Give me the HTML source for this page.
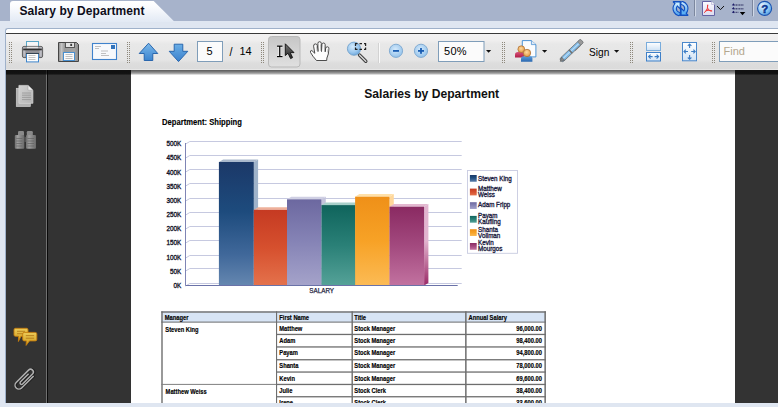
<!DOCTYPE html>
<html><head><meta charset="utf-8">
<style>
*{margin:0;padding:0;box-sizing:border-box}
html,body{width:778px;height:407px;overflow:hidden}
body{position:relative;background:#a7b3cb;font-family:"Liberation Sans",sans-serif}
.a{position:absolute}
#strip{left:0;top:21px;width:778px;height:386px;background:#dfe6f1}
#tab{left:10px;top:1px;width:163px;height:21px}
#tabtxt{left:19.5px;top:4px;font-weight:bold;font-size:12px;color:#0d0d1a;letter-spacing:0.08px}
#panel{left:5px;top:28px;width:773px;height:375px;border:1px solid #9fb1ca;border-right:none;border-bottom:none;border-top-left-radius:3px;background:#fff;overflow:hidden}
#tb{left:0;top:4px;width:772px;height:37px;background:linear-gradient(#f3f2f2 0,#f0efef 6px,#e8e8e8 10px,#e5e5e5 26px,#dddddd 29px,#dbdbdb 35px,#e6e6e6 35px);border-top:1px solid #3a3a3a}
#dark{left:0;top:41px;width:772px;height:334px;background:#333}
#sep{left:40px;top:41px;width:1px;height:334px;background:#707070}
#sep2{left:41px;top:41px;width:1px;height:334px;background:#0a0a0a}
#shadow{left:0;top:41px;width:772px;height:5px;background:linear-gradient(rgba(0,0,0,0.65),rgba(0,0,0,0.5) 40%,rgba(0,0,0,0.28) 80%,rgba(0,0,0,0))}
#shl{left:0;top:41px;width:125px;height:5px;background:linear-gradient(rgba(0,0,0,0.1),rgba(0,0,0,0.4) 50%,rgba(0,0,0,0.45) 80%,rgba(0,0,0,0))}
#shr{left:729px;top:41px;width:43px;height:5px;background:linear-gradient(rgba(0,0,0,0.1),rgba(0,0,0,0.4) 50%,rgba(0,0,0,0.45) 80%,rgba(0,0,0,0))}
#page{left:125px;top:41px;width:604px;height:334px;background:#fff}
.grip{width:4px;height:21px;background-image:radial-gradient(circle at 0.5px 0.5px,#8d8577 0.9px,transparent 1px);background-size:2px 2px}
</style></head><body>
<div class="a" id="strip"></div>
<svg class="a" style="left:0;top:0" width="180" height="22" viewBox="0 0 180 22">
<defs><linearGradient id="tg" x1="0" y1="0" x2="0" y2="1"><stop offset="0" stop-color="#ffffff"/><stop offset="0.25" stop-color="#fbfcfe"/><stop offset="1" stop-color="#e2e9f4"/></linearGradient></defs>
<path d="M10 22 V4 Q10 1 13 1 H153.7 L174 21.3 V22 Z" fill="url(#tg)"/>
</svg>
<div class="a" id="tabtxt">Salary by Department</div>

<div class="a" id="panel">
 <div class="a" id="tb"></div>
 <div class="a" id="dark"></div>
 <div class="a" id="sep"></div>
 <div class="a" id="sep2"></div>
 <div class="a" id="page"></div>
 <div class="a" id="shadow"></div>
 <div class="a" id="shl"></div>
 <div class="a" id="shr"></div>
</div>

<svg class="a" style="left:0;top:0" width="778" height="70" viewBox="0 0 778 70">
<defs>
<linearGradient id="gPrB" x1="0" y1="0" x2="0" y2="1"><stop offset="0" stop-color="#a8a8ae"/><stop offset="0.4" stop-color="#96969c"/><stop offset="1" stop-color="#7c7c80"/></linearGradient>
<linearGradient id="gFl" x1="0" y1="0" x2="1" y2="0"><stop offset="0" stop-color="#8a8a8a"/><stop offset="0.15" stop-color="#c4c4c4"/><stop offset="0.3" stop-color="#9c9c9c"/><stop offset="0.8" stop-color="#a4a4a4"/><stop offset="1" stop-color="#8c8c8c"/></linearGradient>
<linearGradient id="gArr" x1="0" y1="0" x2="0" y2="1"><stop offset="0" stop-color="#7bb8ea"/><stop offset="1" stop-color="#3b84cf"/></linearGradient>
<linearGradient id="gArr2" x1="0" y1="0" x2="0" y2="1"><stop offset="0" stop-color="#6aaee6"/><stop offset="1" stop-color="#3a80cc"/></linearGradient>
<linearGradient id="gBtn" x1="0" y1="0" x2="0" y2="1"><stop offset="0" stop-color="#c6c6c6"/><stop offset="1" stop-color="#e0e0e0"/></linearGradient>
<linearGradient id="gCur" x1="0" y1="0" x2="0" y2="1"><stop offset="0" stop-color="#777"/><stop offset="1" stop-color="#222"/></linearGradient>
<radialGradient id="gMag" cx="0.4" cy="0.35" r="0.7"><stop offset="0" stop-color="#d4eafb"/><stop offset="0.6" stop-color="#9cc8ee"/><stop offset="1" stop-color="#6aa6dc"/></radialGradient>
<radialGradient id="gZm" cx="0.45" cy="0.4" r="0.65"><stop offset="0" stop-color="#d6eafb"/><stop offset="1" stop-color="#8fc0ea"/></radialGradient>
<linearGradient id="gFit" x1="0" y1="0" x2="0" y2="1"><stop offset="0" stop-color="#ffffff"/><stop offset="1" stop-color="#cfe2f5"/></linearGradient>
<linearGradient id="gRed" x1="0" y1="0" x2="0" y2="1"><stop offset="0" stop-color="#d8507a"/><stop offset="1" stop-color="#b02048"/></linearGradient>
<linearGradient id="gBlu" x1="0" y1="0" x2="0" y2="1"><stop offset="0" stop-color="#5a9ad8"/><stop offset="1" stop-color="#2a68b0"/></linearGradient>
<radialGradient id="gSkin" cx="0.45" cy="0.4" r="0.6"><stop offset="0" stop-color="#ffd9a0"/><stop offset="1" stop-color="#e49a40"/></radialGradient>
</defs>
<g fill="#8e887c"><rect x="9" y="42" width="1" height="1"/><rect x="9" y="44" width="1" height="1"/><rect x="9" y="46" width="1" height="1"/><rect x="9" y="48" width="1" height="1"/><rect x="9" y="50" width="1" height="1"/><rect x="9" y="52" width="1" height="1"/><rect x="9" y="54" width="1" height="1"/><rect x="9" y="56" width="1" height="1"/><rect x="9" y="58" width="1" height="1"/><rect x="9" y="60" width="1" height="1"/><rect x="9" y="62" width="1" height="1"/><rect x="11" y="42" width="1" height="1"/><rect x="11" y="44" width="1" height="1"/><rect x="11" y="46" width="1" height="1"/><rect x="11" y="48" width="1" height="1"/><rect x="11" y="50" width="1" height="1"/><rect x="11" y="52" width="1" height="1"/><rect x="11" y="54" width="1" height="1"/><rect x="11" y="56" width="1" height="1"/><rect x="11" y="58" width="1" height="1"/><rect x="11" y="60" width="1" height="1"/><rect x="11" y="62" width="1" height="1"/><rect x="127" y="42" width="1" height="1"/><rect x="127" y="44" width="1" height="1"/><rect x="127" y="46" width="1" height="1"/><rect x="127" y="48" width="1" height="1"/><rect x="127" y="50" width="1" height="1"/><rect x="127" y="52" width="1" height="1"/><rect x="127" y="54" width="1" height="1"/><rect x="127" y="56" width="1" height="1"/><rect x="127" y="58" width="1" height="1"/><rect x="127" y="60" width="1" height="1"/><rect x="127" y="62" width="1" height="1"/><rect x="129" y="42" width="1" height="1"/><rect x="129" y="44" width="1" height="1"/><rect x="129" y="46" width="1" height="1"/><rect x="129" y="48" width="1" height="1"/><rect x="129" y="50" width="1" height="1"/><rect x="129" y="52" width="1" height="1"/><rect x="129" y="54" width="1" height="1"/><rect x="129" y="56" width="1" height="1"/><rect x="129" y="58" width="1" height="1"/><rect x="129" y="60" width="1" height="1"/><rect x="129" y="62" width="1" height="1"/><rect x="261" y="42" width="1" height="1"/><rect x="261" y="44" width="1" height="1"/><rect x="261" y="46" width="1" height="1"/><rect x="261" y="48" width="1" height="1"/><rect x="261" y="50" width="1" height="1"/><rect x="261" y="52" width="1" height="1"/><rect x="261" y="54" width="1" height="1"/><rect x="261" y="56" width="1" height="1"/><rect x="261" y="58" width="1" height="1"/><rect x="261" y="60" width="1" height="1"/><rect x="261" y="62" width="1" height="1"/><rect x="263" y="42" width="1" height="1"/><rect x="263" y="44" width="1" height="1"/><rect x="263" y="46" width="1" height="1"/><rect x="263" y="48" width="1" height="1"/><rect x="263" y="50" width="1" height="1"/><rect x="263" y="52" width="1" height="1"/><rect x="263" y="54" width="1" height="1"/><rect x="263" y="56" width="1" height="1"/><rect x="263" y="58" width="1" height="1"/><rect x="263" y="60" width="1" height="1"/><rect x="263" y="62" width="1" height="1"/><rect x="502" y="42" width="1" height="1"/><rect x="502" y="44" width="1" height="1"/><rect x="502" y="46" width="1" height="1"/><rect x="502" y="48" width="1" height="1"/><rect x="502" y="50" width="1" height="1"/><rect x="502" y="52" width="1" height="1"/><rect x="502" y="54" width="1" height="1"/><rect x="502" y="56" width="1" height="1"/><rect x="502" y="58" width="1" height="1"/><rect x="502" y="60" width="1" height="1"/><rect x="502" y="62" width="1" height="1"/><rect x="504" y="42" width="1" height="1"/><rect x="504" y="44" width="1" height="1"/><rect x="504" y="46" width="1" height="1"/><rect x="504" y="48" width="1" height="1"/><rect x="504" y="50" width="1" height="1"/><rect x="504" y="52" width="1" height="1"/><rect x="504" y="54" width="1" height="1"/><rect x="504" y="56" width="1" height="1"/><rect x="504" y="58" width="1" height="1"/><rect x="504" y="60" width="1" height="1"/><rect x="504" y="62" width="1" height="1"/><rect x="630" y="42" width="1" height="1"/><rect x="630" y="44" width="1" height="1"/><rect x="630" y="46" width="1" height="1"/><rect x="630" y="48" width="1" height="1"/><rect x="630" y="50" width="1" height="1"/><rect x="630" y="52" width="1" height="1"/><rect x="630" y="54" width="1" height="1"/><rect x="630" y="56" width="1" height="1"/><rect x="630" y="58" width="1" height="1"/><rect x="630" y="60" width="1" height="1"/><rect x="630" y="62" width="1" height="1"/><rect x="632" y="42" width="1" height="1"/><rect x="632" y="44" width="1" height="1"/><rect x="632" y="46" width="1" height="1"/><rect x="632" y="48" width="1" height="1"/><rect x="632" y="50" width="1" height="1"/><rect x="632" y="52" width="1" height="1"/><rect x="632" y="54" width="1" height="1"/><rect x="632" y="56" width="1" height="1"/><rect x="632" y="58" width="1" height="1"/><rect x="632" y="60" width="1" height="1"/><rect x="632" y="62" width="1" height="1"/><rect x="712" y="42" width="1" height="1"/><rect x="712" y="44" width="1" height="1"/><rect x="712" y="46" width="1" height="1"/><rect x="712" y="48" width="1" height="1"/><rect x="712" y="50" width="1" height="1"/><rect x="712" y="52" width="1" height="1"/><rect x="712" y="54" width="1" height="1"/><rect x="712" y="56" width="1" height="1"/><rect x="712" y="58" width="1" height="1"/><rect x="712" y="60" width="1" height="1"/><rect x="712" y="62" width="1" height="1"/><rect x="714" y="42" width="1" height="1"/><rect x="714" y="44" width="1" height="1"/><rect x="714" y="46" width="1" height="1"/><rect x="714" y="48" width="1" height="1"/><rect x="714" y="50" width="1" height="1"/><rect x="714" y="52" width="1" height="1"/><rect x="714" y="54" width="1" height="1"/><rect x="714" y="56" width="1" height="1"/><rect x="714" y="58" width="1" height="1"/><rect x="714" y="60" width="1" height="1"/><rect x="714" y="62" width="1" height="1"/></g>
<!-- printer -->
<rect x="26.5" y="41.5" width="12" height="7" fill="#f6f6f6" stroke="#5aa6c6"/>
<rect x="22.4" y="46.4" width="20.2" height="11.2" rx="1.6" fill="url(#gPrB)" stroke="#4a4a4a" stroke-width="0.8"/>
<rect x="23.2" y="47.2" width="2.2" height="9.6" fill="#bdbdc4"/>
<rect x="39.6" y="47.2" width="2.2" height="9.6" fill="#bdbdc4"/>
<rect x="26.9" y="46.8" width="11.2" height="1.8" fill="#e4e4e4"/>
<rect x="23.2" y="48.6" width="18.6" height="1.7" fill="#2e2e2e"/>
<rect x="26.5" y="53.5" width="12" height="8.4" fill="#fdfdfd" stroke="#3f86cc"/>
<rect x="26" y="53" width="13" height="0.8" fill="#333"/>
<path d="M28.5 55.5h7M28.5 57.5h7M28.5 59.5h7" stroke="#b8b8b8" stroke-width="0.8"/>
<!-- floppy -->
<path d="M58.5 42.5H76.5L78.5 44.5V61.5H58.5Z" fill="url(#gFl)" stroke="#464646"/>
<rect x="65.5" y="42.5" width="9" height="5" fill="#e2e2e2" stroke="#4a4a4a" stroke-width="0.9"/>
<rect x="70.3" y="43.8" width="1.8" height="2.2" fill="#3a3a3a"/>
<rect x="63.5" y="52.5" width="11" height="8" fill="#fafafa" stroke="#4a90d0"/>
<path d="M65.5 54.5h7M65.5 56.5h7M65.5 58.5h7" stroke="#b0b0b0" stroke-width="0.8"/>
<!-- envelope -->
<rect x="92.5" y="43.5" width="24" height="16" fill="#f7f9fc" stroke="#3f82cc" stroke-width="1.1"/>
<rect x="111" y="45" width="4" height="4" fill="#3273bb"/>
<path d="M95 46.5h6M95 48.5h4M101 51h7M101 53.5h5M101 55.5h8" stroke="#a8a8a8" stroke-width="0.7"/>
<!-- up arrow -->
<path d="M148.6 43.2 L157.8 53.5 H152.8 V60.5 H144.2 V53.5 H139.2 Z" fill="url(#gArr)" stroke="#1e5ea8" stroke-width="0.9" stroke-linejoin="round"/>
<!-- down arrow -->
<path d="M174.2 44.2 H182.8 V51.3 H187.8 L178.5 61.6 L169.2 51.3 H174.2 Z" fill="url(#gArr2)" stroke="#1e5ea8" stroke-width="0.9" stroke-linejoin="round"/>
<!-- page box -->
<rect x="197.5" y="41.5" width="25" height="20" fill="#fbfbfb" stroke="#7f9db9"/>
<!-- select button -->
<rect x="268.5" y="36.5" width="31.5" height="30.5" rx="3" fill="url(#gBtn)" stroke="#b9b9b9"/>
<!-- ibeam -->
<path d="M277 46.2H282.5M279.75 46.2V56.6M277 56.6H282.5" stroke="#f4f4f4" stroke-width="2.6" fill="none"/>
<path d="M277 46.2H282.5M279.75 46.2V56.6M277 56.6H282.5" stroke="#000" stroke-width="1.25" fill="none"/>
<!-- arrow cursor -->
<path d="M285.3 43.8 V55.6 L288 53.2 L290.6 58.6 L292.6 57.6 L290.2 52.6 L294 52.6 Z" fill="url(#gCur)" stroke="#111" stroke-width="0.9" stroke-linejoin="round"/>
<!-- hand -->
<path d="M316.5 60.5 L313 56.3 L310.5 52.4 Q310 50.4 311.8 50.5 L314.8 53.3 L313.6 46.2 Q313.5 44 315.3 43.9 Q316.9 43.9 317.3 45.6 L318 51.5 L317.9 43.3 Q318 41.7 319.6 41.7 Q321.2 41.7 321.3 43.3 L321.5 51.5 L321.9 44.6 Q322.1 43 323.6 43 Q325.1 43.1 325.2 44.7 L325.2 51.8 L325.7 48.2 Q326.1 46.6 327.5 46.8 Q329.1 47 328.9 48.7 L328.3 54 L326.9 58 L326.7 60.5 Z" fill="#fdfdfd" stroke="#3a3a3a" stroke-width="0.9" stroke-linejoin="round"/>
<path d="M316.6 46.5 L317.1 51M320.6 44.5 L320.8 51M324.4 45.5 L324.5 51.3M328 49 L327.6 52.5" stroke="#b0b0b0" stroke-width="0.8" fill="none"/>
<!-- magnifier -->
<path d="M359.5 55 L365.8 61.3" stroke="#3a3a3a" stroke-width="3.4" stroke-linecap="round"/>
<path d="M359.5 55 L365.8 61.3" stroke="#d8d8d8" stroke-width="1.4" stroke-linecap="round"/>
<circle cx="354" cy="48.7" r="6.6" fill="url(#gMag)" stroke="#6a9cc8" stroke-width="0.8"/>
<path d="M355.5 46V43.7H357.5M359.5 43.7H362M364 43.7H365.6V46M365.6 47.5V49.4H364M362 49.4H359.5M357.5 49.4H355.5V47.5" stroke="#222" stroke-width="1.2" fill="none"/>
<!-- separator -->
<rect x="379" y="43" width="1" height="20" fill="#fafafa"/>
<rect x="378" y="43" width="1" height="20" fill="#d2d2d2"/>
<!-- zoom out/in -->
<circle cx="396" cy="50.8" r="6.6" fill="url(#gZm)" stroke="#7aa6cf" stroke-width="0.9"/>
<rect x="393" y="50" width="6" height="1.8" fill="#1a5db2"/>
<circle cx="421" cy="50.8" r="6.6" fill="url(#gZm)" stroke="#7aa6cf" stroke-width="0.9"/>
<rect x="418" y="50" width="6" height="1.8" fill="#1a5db2"/>
<rect x="420.1" y="48" width="1.8" height="5.8" fill="#1a5db2"/>
<!-- zoom box -->
<rect x="438.5" y="41.5" width="45.5" height="20" fill="#fbfbfb" stroke="#7f9db9"/>
<path d="M486 50H491.2L488.6 52.8Z" fill="#111"/>
<!-- collaboration -->
<path d="M522.3 40.6H531.4L535.9 44.6V56.9H522.3Z" fill="#fbfcfe" stroke="#3c88d0" stroke-width="0.9"/>
<path d="M531.4 40.6V44.6H535.9" fill="#dfe9f4" stroke="#3c88d0" stroke-width="0.7"/>
<path d="M515 57.5V54.5Q515 52 518 52H521.5Q524 52 524 54.5V57.5Z" fill="url(#gRed)"/>
<circle cx="521.3" cy="49.2" r="3.4" fill="url(#gSkin)" stroke="#a86a30" stroke-width="0.7"/>
<path d="M521 61.8V58.5Q521 56.3 523.5 56.3H530Q532.4 56.3 532.4 58.5V61.8Z" fill="url(#gBlu)"/>
<circle cx="527" cy="53" r="3.7" fill="url(#gSkin)" stroke="#a86a30" stroke-width="0.7"/>
<path d="M542 50H547.2L544.6 52.8Z" fill="#111"/>
<!-- pen -->
<g transform="translate(560.2 61.4) rotate(-43.5)">
<rect x="1" y="-2.3" width="29" height="4.6" rx="2" fill="#7fb9e6" stroke="#666" stroke-width="0.7"/>
<rect x="1" y="-0.8" width="29" height="1.3" fill="#b8dcf6"/>
<path d="M0 0 L4 -2.2 L4 2.2Z" fill="#8a8a8a" stroke="#555" stroke-width="0.5"/>
<rect x="13.5" y="-2.4" width="1.6" height="4.8" fill="#6f6f6f"/>
<rect x="26" y="-2.4" width="4" height="4.8" rx="1.5" fill="#9a9a9a" stroke="#666" stroke-width="0.5"/>
<path d="M18 2.4 H26" stroke="#777" stroke-width="1"/>
</g>
<path d="M614 50H619.2L616.6 52.8Z" fill="#111"/>
<!-- fit width -->
<rect x="646.5" y="42.5" width="14" height="8" fill="url(#gFit)" stroke="#79acdc"/>
<rect x="646.5" y="52.5" width="14" height="8.5" fill="url(#gFit)" stroke="#3f80c8"/>
<path d="M648.6 56.6H652.6M650.6 54.6L648.6 56.6L650.6 58.6M654.6 56.6H658.6M656.6 54.6L658.6 56.6L656.6 58.6" stroke="#3b7cc4" stroke-width="1.1" fill="none"/>
<!-- fit page -->
<rect x="682.5" y="42.5" width="14" height="18.3" fill="url(#gFit)" stroke="#4a88cc"/>
<path d="M689.6 44V48M687.8 45.8L689.6 44L691.4 45.8M689.6 55V59.3M687.8 57.5L689.6 59.3L691.4 57.5M684 51.5H688M685.8 49.7L684 51.5L685.8 53.3M691.2 51.5H695.2M693.4 49.7L695.2 51.5L693.4 53.3" stroke="#3b7cc4" stroke-width="1.1" fill="none"/>
<!-- find box -->
<rect x="719.5" y="41.5" width="60" height="20" fill="#fbfbfb" stroke="#7f9db9"/>
</svg>
<div class="a" style="left:206.5px;top:45px;font-size:11px;color:#000">5</div>
<div class="a" style="left:229.5px;top:46px;font-size:11px;color:#000;transform:scaleY(1.2);transform-origin:0 9px">/</div>
<div class="a" style="left:239.4px;top:45px;font-size:11px;color:#000">14</div>
<div class="a" style="left:444px;top:45px;font-size:11px;color:#000;letter-spacing:0.3px">50%</div>
<div class="a" style="left:588.5px;top:45.6px;font-size:11px;color:#000;transform:scaleX(0.92);transform-origin:0 0">Sign</div>
<div class="a" style="left:723.5px;top:45px;font-size:11px;color:#b3a78e">Find</div>

<svg class="a" style="left:660px;top:0" width="118" height="20" viewBox="660 0 118 20">
<defs>
<linearGradient id="gSync" x1="0" y1="0" x2="0" y2="1"><stop offset="0" stop-color="#bfe4ff"/><stop offset="1" stop-color="#58a8ee"/></linearGradient>
<radialGradient id="gHelp" cx="0.35" cy="0.3" r="0.8"><stop offset="0" stop-color="#e6f4ff"/><stop offset="0.6" stop-color="#8cc6f2"/><stop offset="1" stop-color="#4a94dc"/></radialGradient>
</defs>
<!-- sync -->
<g fill="none" stroke-linecap="round" stroke-linejoin="round">
<path d="M676.3 4.5 Q673.6 8 675.4 11.3 Q676.6 13.3 678.6 13.9" stroke="#1250c0" stroke-width="4.4"/>
<path d="M684.7 12.6 Q687.4 9.1 685.6 5.8 Q684.4 3.8 682.4 3.2" stroke="#1250c0" stroke-width="4.4"/>
<path d="M673.6 1.8 H680.4 V8.6 Z" fill="#1250c0" stroke="#1250c0" stroke-width="1.8"/>
<path d="M687.6 15.2 H680.8 V8.4 Z" fill="#1250c0" stroke="#1250c0" stroke-width="1.8"/>
<path d="M676.3 4.5 Q673.6 8 675.4 11.3 Q676.6 13.3 678.6 13.9" stroke="url(#gSync)" stroke-width="2.2"/>
<path d="M684.7 12.6 Q687.4 9.1 685.6 5.8 Q684.4 3.8 682.4 3.2" stroke="url(#gSync)" stroke-width="2.2"/>
<path d="M674.6 2.6 H679.6 V7.4 Z" fill="#c6ecff"/>
<path d="M686.6 14.4 H681.6 V9.6 Z" fill="#5cb0f4"/>
</g>
<!-- separators -->
<rect x="694" y="0" width="1" height="16" fill="#7c879e"/><rect x="695" y="0" width="1" height="16.5" fill="#d0d8e6"/>
<rect x="752" y="0" width="1" height="16" fill="#7c879e"/><rect x="753" y="0" width="1" height="16.5" fill="#d0d8e6"/>
<!-- pdf -->
<defs><linearGradient id="gPdf" x1="0" y1="0" x2="0" y2="1"><stop offset="0" stop-color="#fbfbff"/><stop offset="1" stop-color="#dcdcf0"/></linearGradient></defs>
<path d="M702.5 1.5 H711.6 L714.5 4.4 V15.5 H702.5 Z" fill="url(#gPdf)" stroke="#6464a4" stroke-width="1"/>
<path d="M711.6 1.2 V4.4 H714.8 Z" fill="#fff"/>
<path d="M711.6 1.5 V4.4 H714.5" fill="none" stroke="#9a9ac4" stroke-width="0.6"/>
<path d="M707.7 4.8 Q706.9 7.6 708.4 9.8 Q710 11.5 712.2 11 M708.3 9.6 Q705.9 10.6 704 12.8 M707.7 4.8 Q708.1 8.4 705.6 11.6 M705.9 10.5 Q709.4 9.7 711.9 10.9" stroke="#f03c3c" stroke-width="1" fill="none"/>
<!-- chevron -->
<path d="M717 6 L720.5 9.6 L724 6" stroke="#111" stroke-width="1" fill="none"/>
<!-- list -->
<g fill="#1c1c6a">
<path d="M731.8 5.2 L733.6 3.3 L734.2 4.2 L734.2 5.8 Z"/><path d="M731.8 8.9 L733.6 7 L734.2 7.9 L734.2 9.5 Z"/><path d="M731.8 12.6 L733.6 10.7 L734.2 11.6 L734.2 13.2 Z"/>
</g>
<path d="M734.3 5H743.8M734.3 8.7H743.8M734.3 12.4H738.4" stroke="#3a3c6c" stroke-width="1.4" stroke-dasharray="1.1 0.5" opacity="0.85"/>
<path d="M739.8 12 H745.3 L742.5 15.3Z" fill="#000"/>
<!-- help -->
<circle cx="764.6" cy="8.4" r="7" fill="url(#gHelp)" stroke="#1a52b0" stroke-width="1.1"/>
<text x="764.7" y="12.7" text-anchor="middle" font-family="Liberation Sans" font-weight="bold" font-size="11.5" fill="#0a3590" stroke="#0a3590" stroke-width="0.5">?</text>
</svg>

<svg class="a" style="left:6px;top:70px" width="40" height="333" viewBox="6 70 40 333">
<defs>
<linearGradient id="gPg" x1="0" y1="0" x2="1" y2="1"><stop offset="0" stop-color="#d2d2d2"/><stop offset="1" stop-color="#b4b4b4"/></linearGradient>
<linearGradient id="gBin" x1="0" y1="0" x2="1" y2="0"><stop offset="0" stop-color="#6e6e6e"/><stop offset="0.3" stop-color="#a0a0a0"/><stop offset="0.6" stop-color="#888"/><stop offset="1" stop-color="#6a6a6a"/></linearGradient>
<linearGradient id="gCm" x1="0" y1="0" x2="0" y2="1"><stop offset="0" stop-color="#eccb58"/><stop offset="1" stop-color="#cf9a1c"/></linearGradient>
</defs>
<!-- pages -->
<rect x="16.3" y="88.3" width="14" height="18.2" fill="#b2b2b2" stroke="#d0d0d0" stroke-width="0.7"/>
<path d="M18.9 85.4 H28 L32.9 90.2 V103.3 H18.9 Z" fill="url(#gPg)" stroke="#dadada" stroke-width="0.7"/>
<path d="M28 85.4 V90.2 H32.9" fill="#f0f0f0" stroke="#9a9a9a" stroke-width="0.5"/>
<path d="M22 93H31M22 95.2H31M22 97.4H31M22 99.6H31" stroke="#949494" stroke-width="0.8"/>
<!-- binoculars -->
<rect x="18" y="131" width="6" height="5" rx="1.2" fill="#8a8a8a"/>
<rect x="26.8" y="131" width="6" height="5" rx="1.2" fill="#8a8a8a"/>
<rect x="14.8" y="135" width="9.5" height="13.7" rx="1" fill="url(#gBin)"/>
<rect x="26" y="135" width="10" height="13.7" rx="1" fill="url(#gBin)"/>
<rect x="24.2" y="137" width="1.9" height="5" fill="#555"/>
<path d="M16.3 138.5h6M16.3 141h6M16.3 143.5h6M16.3 146h6M27.5 138.5h6.5M27.5 141h6.5M27.5 143.5h6.5M27.5 146h6.5" stroke="#5a5a5a" stroke-width="0.6"/>
<!-- comments -->
<path d="M15.5 328.3 H26.5 Q28 328.3 28 329.8 V334.8 Q28 336.3 26.5 336.3 H21 L18.4 341.5 L18.6 336.3 H15.5 Q14 336.3 14 334.8 V329.8 Q14 328.3 15.5 328.3Z" fill="url(#gCm)" stroke="#c47c0c" stroke-width="0.9"/>
<path d="M17 331.3h8M17 333.7h6" stroke="#a86a10" stroke-width="0.7"/>
<path d="M24.2 332.4 H35.3 Q36.8 332.4 36.8 333.9 V339.4 Q36.8 340.9 35.3 340.9 H29.5 L26.1 345.4 L26.4 340.9 H24.2 Q22.7 340.9 22.7 339.4 V333.9 Q22.7 332.4 24.2 332.4Z" fill="url(#gCm)" stroke="#c47c0c" stroke-width="0.9"/>
<path d="M25.8 335.6h8.3M25.8 338.2h8.3" stroke="#a86a10" stroke-width="0.7"/>
<!-- paperclip -->
<g transform="translate(24.6 380.3) rotate(-45)">
<path d="M9.5 3.3 H-7.5 A3.85 3.85 0 0 1 -7.5 -4.4 H10 A2.8 2.8 0 0 1 10 1.2 H-4 A1.5 1.5 0 0 1 -4 -1.8 H7.5" fill="none" stroke="#1e1e1e" stroke-width="2.4" transform="translate(0.5 0.6)"/>
<path d="M9.5 3.3 H-7.5 A3.85 3.85 0 0 1 -7.5 -4.4 H10 A2.8 2.8 0 0 1 10 1.2 H-4 A1.5 1.5 0 0 1 -4 -1.8 H7.5" fill="none" stroke="#b2b2b2" stroke-width="1.45"/>
</g>
</svg>

<svg class="a" style="left:131px;top:70px" width="604" height="333" viewBox="131 70 604 333">
<defs>
<linearGradient id="bg0" x1="0" y1="0" x2="0" y2="1"><stop offset="0" stop-color="#1b3868"/><stop offset="0.4" stop-color="#1d4b7d"/><stop offset="0.75" stop-color="#40689a"/><stop offset="1" stop-color="#6587b0"/></linearGradient>
<linearGradient id="sg0" x1="0" y1="0" x2="0" y2="1"><stop offset="0" stop-color="#9fb3ca"/><stop offset="0.45" stop-color="#9fb3ca"/><stop offset="1" stop-color="#3a5a88"/></linearGradient>
<linearGradient id="bg1" x1="0" y1="0" x2="0" y2="1"><stop offset="0" stop-color="#c53a22"/><stop offset="0.5" stop-color="#d6502e"/><stop offset="1" stop-color="#e4724c"/></linearGradient>
<linearGradient id="sg1" x1="0" y1="0" x2="0" y2="1"><stop offset="0" stop-color="#e9a08a"/><stop offset="0.45" stop-color="#e9a08a"/><stop offset="1" stop-color="#b03a20"/></linearGradient>
<linearGradient id="bg2" x1="0" y1="0" x2="0" y2="1"><stop offset="0" stop-color="#6c68a0"/><stop offset="0.5" stop-color="#8684b6"/><stop offset="1" stop-color="#a5a3ca"/></linearGradient>
<linearGradient id="sg2" x1="0" y1="0" x2="0" y2="1"><stop offset="0" stop-color="#c4c4dc"/><stop offset="0.45" stop-color="#c4c4dc"/><stop offset="1" stop-color="#6a6898"/></linearGradient>
<linearGradient id="bg3" x1="0" y1="0" x2="0" y2="1"><stop offset="0" stop-color="#0f645c"/><stop offset="0.5" stop-color="#2a8077"/><stop offset="1" stop-color="#55a298"/></linearGradient>
<linearGradient id="sg3" x1="0" y1="0" x2="0" y2="1"><stop offset="0" stop-color="#9cc8c2"/><stop offset="0.45" stop-color="#9cc8c2"/><stop offset="1" stop-color="#1a6a62"/></linearGradient>
<linearGradient id="bg4" x1="0" y1="0" x2="0" y2="1"><stop offset="0" stop-color="#ef9018"/><stop offset="0.5" stop-color="#f7a226"/><stop offset="1" stop-color="#fcbb55"/></linearGradient>
<linearGradient id="sg4" x1="0" y1="0" x2="0" y2="1"><stop offset="0" stop-color="#ffd79a"/><stop offset="0.45" stop-color="#ffd79a"/><stop offset="1" stop-color="#e08a20"/></linearGradient>
<linearGradient id="bg5" x1="0" y1="0" x2="0" y2="1"><stop offset="0" stop-color="#8a2a62"/><stop offset="0.5" stop-color="#a34a7f"/><stop offset="1" stop-color="#c272a0"/></linearGradient>
<linearGradient id="sg5" x1="0" y1="0" x2="0" y2="1"><stop offset="0" stop-color="#e2b4cf"/><stop offset="0.45" stop-color="#e2b4cf"/><stop offset="1" stop-color="#9a2866"/></linearGradient>
</defs>
<text x="364.2" y="98.3" font-family="Liberation Sans" font-weight="bold" font-size="12.15" fill="#111">Salaries by Department</text>
<text x="162.1" y="125.0" font-family="Liberation Sans" font-weight="bold" font-size="8.4" fill="#000" stroke="#000" stroke-width="0.12" textLength="79.75" lengthAdjust="spacingAndGlyphs">Department: Shipping</text>
<path d="M185.5 144.10 L189.80 141.50 H461.7" stroke="#c6c9e0" stroke-width="1" fill="none"/>
<text x="181.3" y="146.26" text-anchor="end" font-family="Liberation Sans" font-size="7" fill="#15152a" stroke="#15152a" stroke-width="0.35" textLength="14.88" lengthAdjust="spacingAndGlyphs">500K</text>
<path d="M185.5 158.10 L189.80 155.50 H461.7" stroke="#c6c9e0" stroke-width="1" fill="none"/>
<text x="181.3" y="160.43" text-anchor="end" font-family="Liberation Sans" font-size="7" fill="#15152a" stroke="#15152a" stroke-width="0.35" textLength="14.88" lengthAdjust="spacingAndGlyphs">450K</text>
<path d="M185.5 172.10 L189.80 169.50 H461.7" stroke="#c6c9e0" stroke-width="1" fill="none"/>
<text x="181.3" y="174.59" text-anchor="end" font-family="Liberation Sans" font-size="7" fill="#15152a" stroke="#15152a" stroke-width="0.35" textLength="14.88" lengthAdjust="spacingAndGlyphs">400K</text>
<path d="M185.5 186.10 L189.80 183.50 H461.7" stroke="#c6c9e0" stroke-width="1" fill="none"/>
<text x="181.3" y="188.76" text-anchor="end" font-family="Liberation Sans" font-size="7" fill="#15152a" stroke="#15152a" stroke-width="0.35" textLength="14.88" lengthAdjust="spacingAndGlyphs">350K</text>
<path d="M185.5 201.10 L189.80 198.50 H461.7" stroke="#c6c9e0" stroke-width="1" fill="none"/>
<text x="181.3" y="202.92" text-anchor="end" font-family="Liberation Sans" font-size="7" fill="#15152a" stroke="#15152a" stroke-width="0.35" textLength="14.88" lengthAdjust="spacingAndGlyphs">300K</text>
<path d="M185.5 215.10 L189.80 212.50 H461.7" stroke="#c6c9e0" stroke-width="1" fill="none"/>
<text x="181.3" y="217.09" text-anchor="end" font-family="Liberation Sans" font-size="7" fill="#15152a" stroke="#15152a" stroke-width="0.35" textLength="14.88" lengthAdjust="spacingAndGlyphs">250K</text>
<path d="M185.5 229.10 L189.80 226.50 H461.7" stroke="#c6c9e0" stroke-width="1" fill="none"/>
<text x="181.3" y="231.26" text-anchor="end" font-family="Liberation Sans" font-size="7" fill="#15152a" stroke="#15152a" stroke-width="0.35" textLength="14.88" lengthAdjust="spacingAndGlyphs">200K</text>
<path d="M185.5 243.10 L189.80 240.50 H461.7" stroke="#c6c9e0" stroke-width="1" fill="none"/>
<text x="181.3" y="245.42" text-anchor="end" font-family="Liberation Sans" font-size="7" fill="#15152a" stroke="#15152a" stroke-width="0.35" textLength="14.88" lengthAdjust="spacingAndGlyphs">150K</text>
<path d="M185.5 258.10 L189.80 255.50 H461.7" stroke="#c6c9e0" stroke-width="1" fill="none"/>
<text x="181.3" y="259.59" text-anchor="end" font-family="Liberation Sans" font-size="7" fill="#15152a" stroke="#15152a" stroke-width="0.35" textLength="14.88" lengthAdjust="spacingAndGlyphs">100K</text>
<path d="M185.5 271.10 L189.80 268.50 H461.7" stroke="#c6c9e0" stroke-width="1" fill="none"/>
<text x="181.3" y="273.75" text-anchor="end" font-family="Liberation Sans" font-size="7" fill="#15152a" stroke="#15152a" stroke-width="0.35" textLength="11.33" lengthAdjust="spacingAndGlyphs">50K</text>
<path d="M185.5 286.10 L189.80 283.50 H461.7" stroke="#c6c9e0" stroke-width="1" fill="none"/>
<text x="181.3" y="287.92" text-anchor="end" font-family="Liberation Sans" font-size="7" fill="#15152a" stroke="#15152a" stroke-width="0.35" textLength="7.79" lengthAdjust="spacingAndGlyphs">0K</text>
<path d="M185.5 143 V285.6" stroke="#7077ad" stroke-width="0.9"/>
<path d="M253.8 162.0 L258.10 159.40 V282.90 L253.8 285.5 Z" fill="url(#sg0)"/>
<path d="M218.9 162.0 L223.20 159.40 H258.10 L253.8 162.0 Z" fill="#a9b8cc"/>
<rect x="218.9" y="162.0" width="34.90" height="123.50" fill="url(#bg0)"/>
<path d="M287.0 209.8 L291.30 207.20 V282.90 L287.0 285.5 Z" fill="url(#sg1)"/>
<path d="M253.8 209.8 L258.10 207.20 H291.30 L287.0 209.8 Z" fill="#eeb09a"/>
<rect x="253.8" y="209.8" width="33.20" height="75.70" fill="url(#bg1)"/>
<path d="M321.5 199.3 L325.80 196.70 V282.90 L321.5 285.5 Z" fill="url(#sg2)"/>
<path d="M287.0 199.3 L291.30 196.70 H325.80 L321.5 199.3 Z" fill="#cfcfe3"/>
<rect x="287.0" y="199.3" width="34.50" height="86.20" fill="url(#bg2)"/>
<path d="M355.1 205.1 L359.40 202.50 V282.90 L355.1 285.5 Z" fill="url(#sg3)"/>
<path d="M321.5 205.1 L325.80 202.50 H359.40 L355.1 205.1 Z" fill="#a8d0ca"/>
<rect x="321.5" y="205.1" width="33.60" height="80.40" fill="url(#bg3)"/>
<path d="M389.5 196.7 L393.80 194.10 V282.90 L389.5 285.5 Z" fill="url(#sg4)"/>
<path d="M355.1 196.7 L359.40 194.10 H393.80 L389.5 196.7 Z" fill="#ffe0a8"/>
<rect x="355.1" y="196.7" width="34.40" height="88.80" fill="url(#bg4)"/>
<path d="M424.1 206.7 L428.40 204.10 V282.90 L424.1 285.5 Z" fill="url(#sg5)"/>
<path d="M389.5 206.7 L393.80 204.10 H428.40 L424.1 206.7 Z" fill="#e3b8d0"/>
<rect x="389.5" y="206.7" width="34.60" height="78.80" fill="url(#bg5)"/>
<path d="M185.5 285.5 H457.7" stroke="#6a72a8" stroke-width="1"/>
<text x="321.7" y="292.8" text-anchor="middle" font-family="Liberation Sans" font-size="6.5" fill="#25253f" stroke="#25253f" stroke-width="0.25" textLength="24.77" lengthAdjust="spacingAndGlyphs">SALARY</text>
<rect x="467.5" y="170.5" width="50" height="82.8" fill="#fff" stroke="#c8cbe0" stroke-width="0.9"/>
<rect x="469.9" y="175.0" width="6.8" height="6.8" fill="url(#bg0)"/>
<text x="478.1" y="181.0" font-family="Liberation Sans" font-size="6.5" fill="#202040" stroke="#202040" stroke-width="0.32" textLength="33.65" lengthAdjust="spacingAndGlyphs">Steven King</text>
<rect x="469.9" y="188.6" width="6.8" height="6.8" fill="url(#bg1)"/>
<text x="478.1" y="190.9" font-family="Liberation Sans" font-size="6.5" fill="#202040" stroke="#202040" stroke-width="0.32" textLength="23.58" lengthAdjust="spacingAndGlyphs">Matthew</text>
<text x="478.1" y="197.0" font-family="Liberation Sans" font-size="6.5" fill="#202040" stroke="#202040" stroke-width="0.32" textLength="16.87" lengthAdjust="spacingAndGlyphs">Weiss</text>
<rect x="469.9" y="202.2" width="6.8" height="6.8" fill="url(#bg2)"/>
<text x="478.1" y="206.7" font-family="Liberation Sans" font-size="6.5" fill="#202040" stroke="#202040" stroke-width="0.32" textLength="32.25" lengthAdjust="spacingAndGlyphs">Adam Fripp</text>
<rect x="469.9" y="215.9" width="6.8" height="6.8" fill="url(#bg3)"/>
<text x="478.1" y="217.9" font-family="Liberation Sans" font-size="6.5" fill="#202040" stroke="#202040" stroke-width="0.32" textLength="19.42" lengthAdjust="spacingAndGlyphs">Payam</text>
<text x="478.1" y="223.6" font-family="Liberation Sans" font-size="6.5" fill="#202040" stroke="#202040" stroke-width="0.32" textLength="22.55" lengthAdjust="spacingAndGlyphs">Kaufling</text>
<rect x="469.9" y="229.2" width="6.8" height="6.8" fill="url(#bg4)"/>
<text x="478.1" y="231.7" font-family="Liberation Sans" font-size="6.5" fill="#202040" stroke="#202040" stroke-width="0.32" textLength="19.78" lengthAdjust="spacingAndGlyphs">Shanta</text>
<text x="478.1" y="237.7" font-family="Liberation Sans" font-size="6.5" fill="#202040" stroke="#202040" stroke-width="0.32" textLength="22.20" lengthAdjust="spacingAndGlyphs">Vollman</text>
<rect x="469.9" y="243.0" width="6.8" height="6.8" fill="url(#bg5)"/>
<text x="478.1" y="245.0" font-family="Liberation Sans" font-size="6.5" fill="#202040" stroke="#202040" stroke-width="0.32" textLength="15.61" lengthAdjust="spacingAndGlyphs">Kevin</text>
<text x="478.1" y="250.5" font-family="Liberation Sans" font-size="6.5" fill="#202040" stroke="#202040" stroke-width="0.32" textLength="24.28" lengthAdjust="spacingAndGlyphs">Mourgos</text>
</svg>
<svg class="a" style="left:131px;top:300px" width="604" height="103" viewBox="131 300 604 103">
<rect x="161.3" y="311.3" width="384.59999999999997" height="11" fill="#d7e4f5"/>
<rect x="161.3" y="311.3" width="384.59999999999997" height="1.4" fill="#6e6e6e"/>
<rect x="161.3" y="311.3" width="1.4" height="100" fill="#6e6e6e"/>
<rect x="544.4" y="311.3" width="1.5" height="100" fill="#6e6e6e"/>
<rect x="276.0" y="311.3" width="1.1" height="100" fill="#6e6e6e"/>
<rect x="351.5" y="311.3" width="1.4" height="100" fill="#6e6e6e"/>
<rect x="465.1" y="311.3" width="1.5" height="100" fill="#6e6e6e"/>
<rect x="161.3" y="321.6" width="384.59999999999997" height="1.0" fill="#6e6e6e"/>
<rect x="276" y="333.79999999999995" width="269.9" height="1.3" fill="#6e6e6e"/>
<rect x="276" y="346.29999999999995" width="269.9" height="1.3" fill="#6e6e6e"/>
<rect x="276" y="359.09999999999997" width="269.9" height="1.3" fill="#6e6e6e"/>
<rect x="276" y="371.4" width="269.9" height="1.3" fill="#6e6e6e"/>
<rect x="276" y="383.79999999999995" width="269.9" height="1.3" fill="#6e6e6e"/>
<rect x="276" y="396.09999999999997" width="269.9" height="1.3" fill="#6e6e6e"/>
<rect x="161.3" y="383.9" width="114.69999999999999" height="1" fill="#808080"/>
<text x="164.8" y="319.8" font-family="Liberation Sans" font-weight="bold" font-size="6.4" fill="#000" stroke="#000" stroke-width="0.15" textLength="23.69" lengthAdjust="spacingAndGlyphs">Manager</text>
<text x="279.3" y="319.8" font-family="Liberation Sans" font-weight="bold" font-size="6.4" fill="#000" stroke="#000" stroke-width="0.15" textLength="29.77" lengthAdjust="spacingAndGlyphs">First Name</text>
<text x="354.3" y="319.8" font-family="Liberation Sans" font-weight="bold" font-size="6.4" fill="#000" stroke="#000" stroke-width="0.15" textLength="11.74" lengthAdjust="spacingAndGlyphs">Title</text>
<text x="468.5" y="319.8" font-family="Liberation Sans" font-weight="bold" font-size="6.4" fill="#000" stroke="#000" stroke-width="0.15" textLength="38.41" lengthAdjust="spacingAndGlyphs">Annual Salary</text>
<text x="279.3" y="330.8" font-family="Liberation Sans" font-weight="bold" font-size="6.4" fill="#000" stroke="#000" stroke-width="0.15" textLength="23.04" lengthAdjust="spacingAndGlyphs">Matthew</text>
<text x="354.3" y="330.8" font-family="Liberation Sans" font-weight="bold" font-size="6.4" fill="#000" stroke="#000" stroke-width="0.15" textLength="40.97" lengthAdjust="spacingAndGlyphs">Stock Manager</text>
<text x="541.9" y="330.8" text-anchor="end" font-family="Liberation Sans" font-weight="bold" font-size="6.4" fill="#000" stroke="#000" stroke-width="0.15" textLength="25.63" lengthAdjust="spacingAndGlyphs">96,000.00</text>
<text x="279.3" y="342.9" font-family="Liberation Sans" font-weight="bold" font-size="6.4" fill="#000" stroke="#000" stroke-width="0.15" textLength="16.00" lengthAdjust="spacingAndGlyphs">Adam</text>
<text x="354.3" y="342.9" font-family="Liberation Sans" font-weight="bold" font-size="6.4" fill="#000" stroke="#000" stroke-width="0.15" textLength="40.97" lengthAdjust="spacingAndGlyphs">Stock Manager</text>
<text x="541.9" y="342.9" text-anchor="end" font-family="Liberation Sans" font-weight="bold" font-size="6.4" fill="#000" stroke="#000" stroke-width="0.15" textLength="25.63" lengthAdjust="spacingAndGlyphs">98,400.00</text>
<text x="279.3" y="355.4" font-family="Liberation Sans" font-weight="bold" font-size="6.4" fill="#000" stroke="#000" stroke-width="0.15" textLength="18.57" lengthAdjust="spacingAndGlyphs">Payam</text>
<text x="354.3" y="355.4" font-family="Liberation Sans" font-weight="bold" font-size="6.4" fill="#000" stroke="#000" stroke-width="0.15" textLength="40.97" lengthAdjust="spacingAndGlyphs">Stock Manager</text>
<text x="541.9" y="355.4" text-anchor="end" font-family="Liberation Sans" font-weight="bold" font-size="6.4" fill="#000" stroke="#000" stroke-width="0.15" textLength="25.63" lengthAdjust="spacingAndGlyphs">94,800.00</text>
<text x="279.3" y="368.2" font-family="Liberation Sans" font-weight="bold" font-size="6.4" fill="#000" stroke="#000" stroke-width="0.15" textLength="19.20" lengthAdjust="spacingAndGlyphs">Shanta</text>
<text x="354.3" y="368.2" font-family="Liberation Sans" font-weight="bold" font-size="6.4" fill="#000" stroke="#000" stroke-width="0.15" textLength="40.97" lengthAdjust="spacingAndGlyphs">Stock Manager</text>
<text x="541.9" y="368.2" text-anchor="end" font-family="Liberation Sans" font-weight="bold" font-size="6.4" fill="#000" stroke="#000" stroke-width="0.15" textLength="25.63" lengthAdjust="spacingAndGlyphs">78,000.00</text>
<text x="279.3" y="380.5" font-family="Liberation Sans" font-weight="bold" font-size="6.4" fill="#000" stroke="#000" stroke-width="0.15" textLength="15.69" lengthAdjust="spacingAndGlyphs">Kevin</text>
<text x="354.3" y="380.5" font-family="Liberation Sans" font-weight="bold" font-size="6.4" fill="#000" stroke="#000" stroke-width="0.15" textLength="40.97" lengthAdjust="spacingAndGlyphs">Stock Manager</text>
<text x="541.9" y="380.5" text-anchor="end" font-family="Liberation Sans" font-weight="bold" font-size="6.4" fill="#000" stroke="#000" stroke-width="0.15" textLength="25.63" lengthAdjust="spacingAndGlyphs">69,600.00</text>
<text x="279.3" y="392.9" font-family="Liberation Sans" font-weight="bold" font-size="6.4" fill="#000" stroke="#000" stroke-width="0.15" textLength="13.13" lengthAdjust="spacingAndGlyphs">Julie</text>
<text x="354.3" y="392.9" font-family="Liberation Sans" font-weight="bold" font-size="6.4" fill="#000" stroke="#000" stroke-width="0.15" textLength="31.69" lengthAdjust="spacingAndGlyphs">Stock Clerk</text>
<text x="541.9" y="392.9" text-anchor="end" font-family="Liberation Sans" font-weight="bold" font-size="6.4" fill="#000" stroke="#000" stroke-width="0.15" textLength="25.63" lengthAdjust="spacingAndGlyphs">38,400.00</text>
<text x="279.3" y="405.2" font-family="Liberation Sans" font-weight="bold" font-size="6.4" fill="#000" stroke="#000" stroke-width="0.15" textLength="13.77" lengthAdjust="spacingAndGlyphs">Irene</text>
<text x="354.3" y="405.2" font-family="Liberation Sans" font-weight="bold" font-size="6.4" fill="#000" stroke="#000" stroke-width="0.15" textLength="31.69" lengthAdjust="spacingAndGlyphs">Stock Clerk</text>
<text x="541.9" y="405.2" text-anchor="end" font-family="Liberation Sans" font-weight="bold" font-size="6.4" fill="#000" stroke="#000" stroke-width="0.15" textLength="25.63" lengthAdjust="spacingAndGlyphs">33,600.00</text>
<text x="165.3" y="332.0" font-family="Liberation Sans" font-weight="bold" font-size="6.4" fill="#000" stroke="#000" stroke-width="0.15" textLength="33.29" lengthAdjust="spacingAndGlyphs">Steven King</text>
<text x="165.6" y="393.8" font-family="Liberation Sans" font-weight="bold" font-size="6.4" fill="#000" stroke="#000" stroke-width="0.15" textLength="41.18" lengthAdjust="spacingAndGlyphs">Matthew Weiss</text>
</svg>
</body></html>
